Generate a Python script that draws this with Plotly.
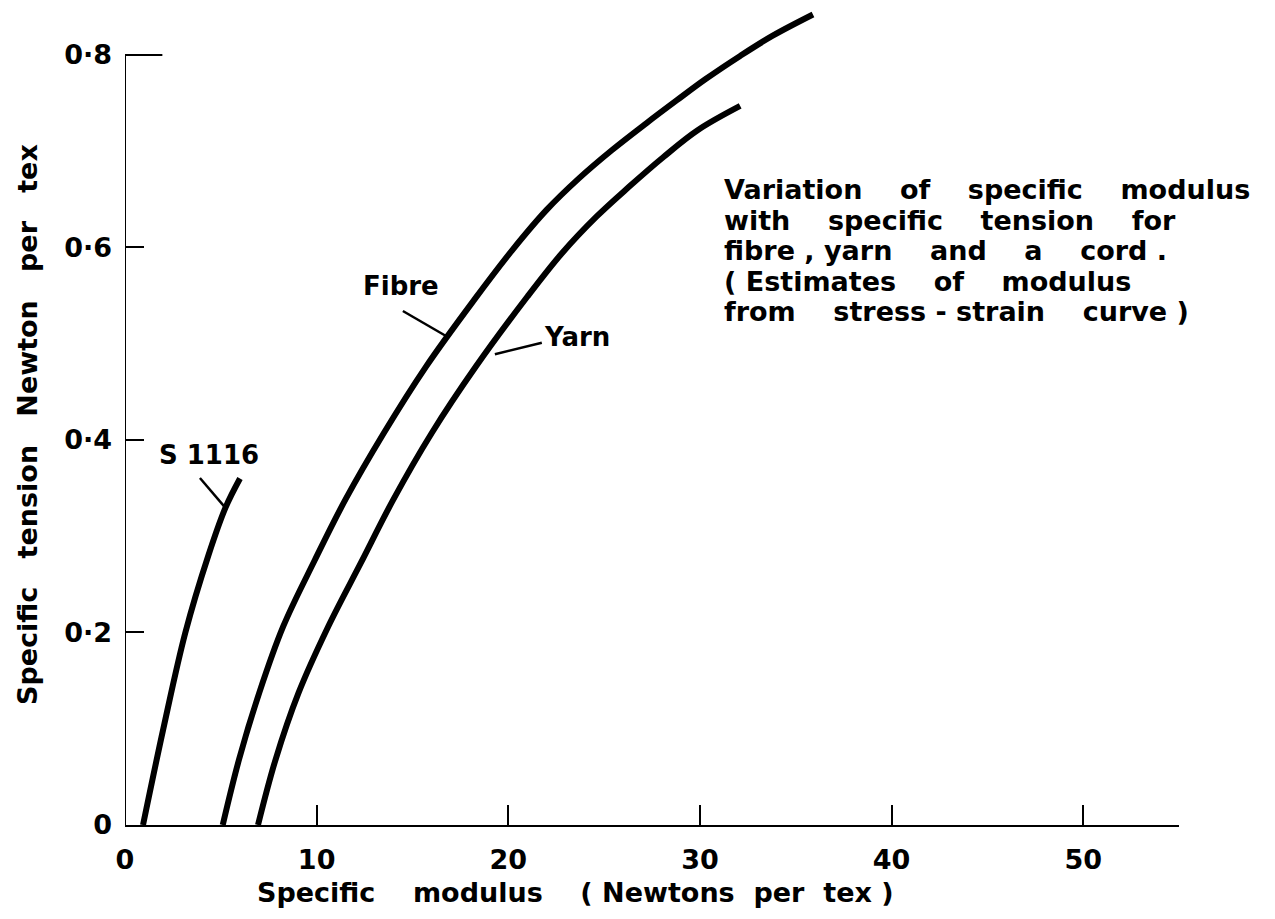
import plotly.graph_objects as go

# ---- data ----
fibre_x = [5.1, 5.95, 7.0, 8.25, 9.9, 11.5, 13.5, 15.7, 18.2, 20.2, 22.0, 23.7, 25.4, 27.2, 28.8, 30.3, 32.1, 33.8, 35.9]
fibre_y = [0.0, 0.068, 0.137, 0.206, 0.275, 0.338, 0.407, 0.476, 0.545, 0.597, 0.639, 0.672, 0.701, 0.729, 0.753, 0.775, 0.799, 0.820, 0.842]

yarn_x = [6.94, 7.85, 9.05, 10.6, 12.3, 14.0, 16.0, 18.3, 21.0, 22.8, 24.6, 26.3, 28.1, 29.9, 32.1]
yarn_y = [0.0, 0.0675, 0.137, 0.206, 0.272, 0.338, 0.407, 0.476, 0.549, 0.594, 0.632, 0.663, 0.694, 0.722, 0.747]

s1116_x = [0.94, 2.0, 3.15, 4.35, 5.25, 6.0]
s1116_y = [0.0, 0.10, 0.20, 0.28, 0.33, 0.36]

x_tickvals = [0, 10, 20, 30, 40, 50]
x_ticktext = ["0", "10", "20", "30", "40", "50"]
y_tickvals = [0, 0.2, 0.4, 0.6, 0.8]
y_ticktext = ["0", "0\u00b72", "0\u00b74", "0\u00b76", "0\u00b78"]

G = "\u00a0\u00a0\u00a0 "
G3 = "\u00a0\u00a0 "
note_lines = [
    "Variation" + G + "of" + G + "specific" + G + "modulus",
    "with" + G + "specific" + G + "tension" + G + "for",
    "fibre , yarn" + G + "and" + G + "a" + G + "cord .",
    "( Estimates" + G + "of" + G + "modulus",
    "from" + G + "stress - strain" + G + "curve )",
]
note_y = [0.660, 0.6275, 0.5964, 0.5642, 0.533]

FONT = "DejaVu Sans"
INK = "black"
FS = 27

fig = go.Figure()
for xs, ys, nm in [(s1116_x, s1116_y, "S 1116"), (fibre_x, fibre_y, "Fibre"), (yarn_x, yarn_y, "Yarn")]:
    fig.add_trace(go.Scatter(x=xs, y=ys, mode="lines", name=nm,
                             line=dict(color=INK, width=6, shape="spline", smoothing=1.0),
                             showlegend=False, hoverinfo="skip"))

annotations = []
# curve labels
for txt, ax_, ay_ in [("Fibre", 14.4, 0.560), ("Yarn", 23.6, 0.507), ("S 1116", 4.4, 0.384)]:
    annotations.append(dict(x=ax_, y=ay_, text=txt, showarrow=False,
                            font=dict(family=FONT, size=26, color=INK, weight="bold"),
                            xanchor="center", yanchor="middle"))
for t, yy in zip(note_lines, note_y):
    annotations.append(dict(x=31.14, y=yy, text=t, showarrow=False,
                            font=dict(family=FONT, size=FS, color=INK, weight="bold"),
                            xanchor="left", yanchor="middle"))
# axis titles
annotations.append(dict(xref="paper", yref="paper", x=(575 - 125) / 1054, y=-(893 - 825) / 823,
                        text="Specific" + G + "modulus" + G + "( Newtons\u00a0 per\u00a0 tex )",
                        showarrow=False, xanchor="center", yanchor="middle",
                        font=dict(family=FONT, size=FS, color=INK, weight="bold")))
annotations.append(dict(xref="paper", yref="paper", x=-(125 - 28) / 1054, y=(825 - 425) / 823,
                        text="Specific" + G3 + "tension" + G3 + "Newton" + G3 + "per" + G3 + "tex",
                        textangle=-90, showarrow=False, xanchor="center", yanchor="middle",
                        font=dict(family=FONT, size=FS, color=INK, weight="bold")))

shapes = [
    # y axis line (stops at 0.8) and long top tick
    dict(type="line", xref="x", yref="y", x0=0, x1=0, y0=0, y1=0.8, line=dict(color=INK, width=2)),
    dict(type="line", xref="x", yref="y", x0=0, x1=1.95, y0=0.8, y1=0.8, line=dict(color=INK, width=2)),
    # leader lines
    dict(type="line", xref="x", yref="y", x0=14.50, y0=0.534, x1=16.75, y1=0.508, line=dict(color=INK, width=2.5)),
    dict(type="line", xref="x", yref="y", x0=21.75, y0=0.501, x1=19.30, y1=0.489, line=dict(color=INK, width=2.5)),
    dict(type="line", xref="x", yref="y", x0=3.91, y0=0.3605, x1=5.22, y1=0.330, line=dict(color=INK, width=2.5)),
]

fig.update_layout(
    width=1275, height=919, autosize=False,
    margin=dict(l=125, r=96, t=2, b=94),
    plot_bgcolor="white", paper_bgcolor="white",
    annotations=annotations, shapes=shapes,
    xaxis=dict(range=[0, 55], showgrid=False, zeroline=False, showline=True, linecolor=INK, linewidth=2,
               ticks="inside", ticklen=20, tickwidth=2, tickcolor=INK,
               tickvals=x_tickvals, ticktext=x_ticktext, ticklabelstandoff=10,
               tickfont=dict(family=FONT, size=FS, color=INK, weight="bold")),
    yaxis=dict(range=[0, 0.855], showgrid=False, zeroline=False, showline=False,
               ticks="inside", ticklen=19, tickwidth=2, tickcolor=INK,
               tickvals=y_tickvals, ticktext=y_ticktext, ticklabelstandoff=12,
               tickfont=dict(family=FONT, size=FS, color=INK, weight="bold")),
)

fig.write_html("out.html")
